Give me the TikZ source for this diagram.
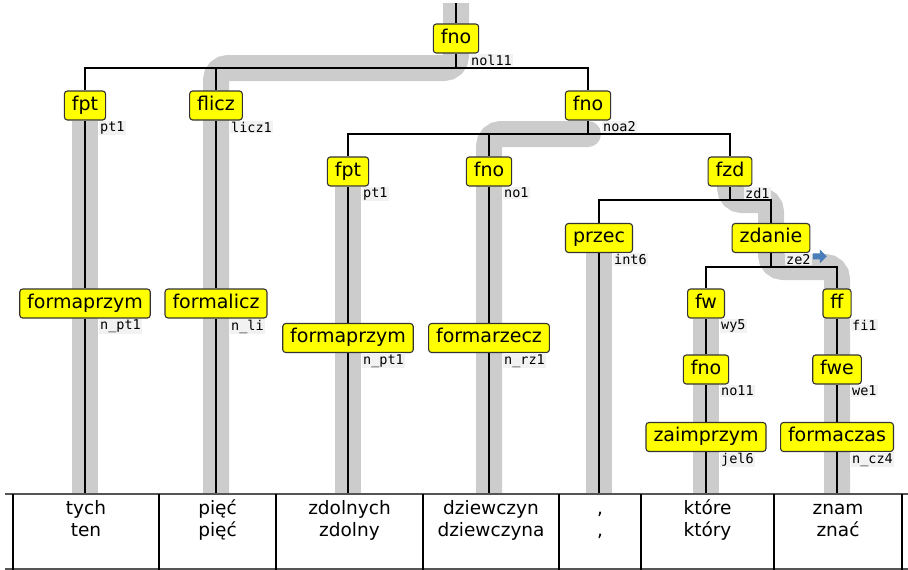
\documentclass[tikz,border=0pt]{standalone}
\usepackage{fontspec}
\setmainfont{DejaVu Sans}
\setmonofont{DejaVu Sans Mono}
\usetikzlibrary{backgrounds}
\definecolor{nodeyellow}{HTML}{FFFF00}
\definecolor{hilite}{HTML}{CCCCCC}
\definecolor{arrowblue}{HTML}{4A7EBB}
\definecolor{tabgray}{HTML}{555555}
\newcommand{\cell}[2]{\strut #1\\\strut #2}
\tikzstyle{cat} = [rectangle, rounded corners=3pt, 
draw=black!80, 
line width=1.1pt, 
fill=nodeyellow, 
minimum height=29pt, 
inner xsep=7.5pt, 
text height=13.5pt, 
text depth=4.3pt, 
font=\fontsize{19}{21}\selectfont]
\tikzstyle{lbl} = [anchor=north west, 
xshift=14pt, 
fill=gray!10, 
inner sep=1pt, 
font=\ttfamily\fontsize{13.5}{14}\selectfont]
\tikzstyle{word} = [align=center, 
inner sep=0pt, 
font=\fontsize{18.5}{22}\selectfont]
\tikzstyle{tline} = [line width=2.7pt, black]
\tikzstyle{hl} = [line width=26pt, hilite, rounded corners=12pt]
\tikzstyle{tabh} = [line width=1.4pt, tabgray]
\tikzstyle{tabv} = [line width=2.4pt, black]

\begin{document}
\begin{tikzpicture}[x=1pt, y=-1pt]
\useasboundingbox (0,0) rectangle (908,570);

\coordinate (top) at (456,3);
\coordinate (b1) at (0,68);
\coordinate (b2) at (0,134);
\coordinate (b3) at (0,200);
\coordinate (b4) at (0,267);
\coordinate (tab) at (0,494);

% tree nodes
\node (root) [cat] at (456,38.5) {fno};
\node (fpt1) [cat] at (85,105.5) {fpt};
\node (flicz) [cat] at (216,105.5) {flicz};
\node (fno1) [cat] at (588,105.5) {fno};
\node (fmp1) [cat] at (85,303.5) {formaprzym};
\node (fml) [cat] at (216,303.5) {formalicz};
\node (fpt2) [cat] at (348,171.5) {fpt};
\node (fno2) [cat] at (489,171.5) {fno};
\node (fzd) [cat] at (730,171.5) {fzd};
\node (fmp2) [cat] at (348,338) {formaprzym};
\node (fmr) [cat] at (489,338) {formarzecz};
\node (przec) [cat] at (599,238) {przec};
\node (zdanie) [cat] at (771,238) {zdanie};
\node (fw) [cat] at (706,303.5) {fw};
\node (ff) [cat] at (837,303.5) {ff};
\node (fno3) [cat] at (706,369.5) {fno};
\node (fwe) [cat] at (837,369.5) {fwe};
\node (zaim) [cat] at (706,437) {zaimprzym};
\node (fmc) [cat] at (837,437) {formaczas};

% labels
\node (lroot) [lbl] at (root.south) {nol11};
\node (lfpt1) [lbl] at (fpt1.south) {pt1};
\node (lflicz) [lbl] at (flicz.south) {licz1};
\node (lfno1) [lbl] at (fno1.south) {noa2};
\node (lfmp1) [lbl] at (fmp1.south) {n\_pt1};
\node (lfml) [lbl] at (fml.south) {n\_li};
\node (lfpt2) [lbl] at (fpt2.south) {pt1};
\node (lfno2) [lbl] at (fno2.south) {no1};
\node (lfzd) [lbl] at (fzd.south) {zd1};
\node (lfmp2) [lbl] at (fmp2.south) {n\_pt1};
\node (lfmr) [lbl] at (fmr.south) {n\_rz1};
\node (lprzec) [lbl] at (przec.south) {int6};
\node (lzdanie) [lbl] at (zdanie.south) {ze2};
\node (lfw) [lbl] at (fw.south) {wy5};
\node (lff) [lbl] at (ff.south) {fi1};
\node (lfno3) [lbl] at (fno3.south) {no11};
\node (lfwe) [lbl] at (fwe.south) {we1};
\node (lzaim) [lbl] at (zaim.south) {jel6};
\node (lfmc) [lbl] at (fmc.south) {n\_cz4};
% blue arrow after ze2
\fill [arrowblue, shift={(lzdanie.east)}] 
  (1,-6) -- (8,-6) -- (8,-10) -- (15,-3) -- (8,4) -- (8,0) -- (1,0) -- cycle;

% words
\node (w0) [word] at (86,521.5) {\cell{tych}{ten}};
\node (w1) [word] at (217.5,521.5) {\cell{pięć}{pięć}};
\node (w2) [word] at (349.5,521.5) {\cell{zdolnych}{zdolny}};
\node (w3) [word] at (491,521.5) {\cell{dziewczyn}{dziewczyna}};
\node (w4) [word] at (600,521.5) {\cell{,}{,}};
\node (w5) [word] at (707.5,521.5) {\cell{które}{który}};
\node (w6) [word] at (838,521.5) {\cell{znam}{znać}};

\begin{scope}[on background layer]
% highlighted path
\draw [hl] (top) -- (root |- b1) -- (flicz |- b1) -- (flicz |- tab);
\draw [hl] (fpt1.south) -- (fpt1 |- tab);
\fill [hilite] (fno1 |- b2) circle (13pt);
\draw [hl] (fno1 |- b2) -- (fno2 |- b2) -- (fno2 |- tab);
\draw [hl] (fpt2.south) -- (fpt2 |- tab);
\draw [hl] (fzd.south) -- (fzd |- b3) -- (zdanie |- b3) -- (zdanie |- b4) -- (ff |- b4) -- (ff |- tab);
\draw [hl] (przec.south) -- (przec |- tab);
\draw [hl] (fw.south) -- (fw |- tab);

% tree lines
\draw [tline] (top) -- (root);
\draw [tline] (root) -- (root |- b1);
\draw [tline] (fpt1) -- (fpt1 |- b1) -- (fno1 |- b1) -- (fno1);
\draw [tline] (flicz) -- (flicz |- b1);
\draw [tline] (fno1) -- (fno1 |- b2);
\draw [tline] (fpt2) -- (fpt2 |- b2) -- (fzd |- b2) -- (fzd);
\draw [tline] (fno2) -- (fno2 |- b2);
\draw [tline] (fzd) -- (fzd |- b3);
\draw [tline] (przec) -- (przec |- b3) -- (zdanie |- b3) -- (zdanie);
\draw [tline] (zdanie) -- (zdanie |- b4);
\draw [tline] (fw) -- (fw |- b4) -- (ff |- b4) -- (ff);
\draw [tline] (fpt1) -- (fmp1);
\draw [tline] (flicz) -- (fml);
\draw [tline] (fpt2) -- (fmp2);
\draw [tline] (fno2) -- (fmr);
\draw [tline] (fw) -- (fno3);
\draw [tline] (fno3) -- (zaim);
\draw [tline] (ff) -- (fwe);
\draw [tline] (fwe) -- (fmc);
\draw [tline] (fmp1) -- (fmp1 |- tab);
\draw [tline] (fml) -- (fml |- tab);
\draw [tline] (fmp2) -- (fmp2 |- tab);
\draw [tline] (fmr) -- (fmr |- tab);
\draw [tline] (przec) -- (przec |- tab);
\draw [tline] (zaim) -- (zaim |- tab);
\draw [tline] (fmc) -- (fmc |- tab);
\end{scope}

% table
\draw [tabh] (5,494) -- (908,494);
\draw [tabh] (5,569) -- (908,569);
\foreach \x in {13,159,276,423,559,641,774,902}
  \draw [tabv] (\x,494) -- (\x,570);

\end{tikzpicture}
\end{document}
